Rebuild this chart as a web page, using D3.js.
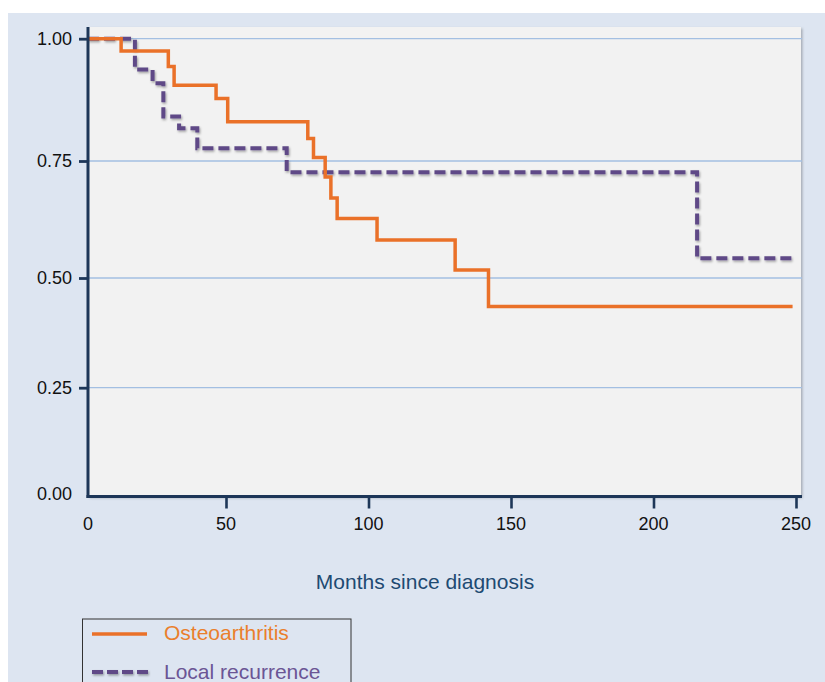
<!DOCTYPE html>
<html>
<head>
<meta charset="utf-8">
<script src="https://cdn.jsdelivr.net/npm/d3@7"></script>
<style>
  html, body { margin: 0; padding: 0; background: #fff; }
  svg { display: block; font-family: "Liberation Sans", Arial, Helvetica, sans-serif; }
</style>
</head>
<body>
<div id="chart"></div>
<script>
// Kaplan-Meier style step data
var osteoMonths = [0, 12, 29.1, 31.2, 46.4, 50.6, 78.7, 80.7, 84.8, 86.8, 89.0, 103.0, 130.4, 142.1, 248.8];
var osteoSurv   = [1.0, 0.975, 0.943, 0.905, 0.878, 0.830, 0.796, 0.757, 0.716, 0.671, 0.627, 0.581, 0.517, 0.435, 0.435];

var recurMonths = [0, 17.0, 23.4, 27.3, 33.0, 39.6, 71.3, 215.3, 249.2];
var recurSurv   = [1.0, 0.937, 0.909, 0.841, 0.817, 0.776, 0.726, 0.542, 0.542];

var xTicks = [50, 100, 150, 200, 250];
var yTicks = [1.0, 0.75, 0.5, 0.25];
var xLabels = [0, 50, 100, 150, 200, 250];
var yLabels = [1.0, 0.75, 0.5, 0.25, 0.0];

var W = 825, H = 682;
var plot = { left: 88, right: 801, top: 27, bottom: 496.5 };

var svg = d3.select("#chart").append("svg")
    .attr("width", W)
    .attr("height", H);

var defs = svg.append("defs");
defs.append("filter").attr("id", "panelShadow")
    .attr("filterUnits", "userSpaceOnUse")
    .attr("x", 0).attr("y", 0).attr("width", W).attr("height", H)
  .append("feDropShadow")
    .attr("dx", 1.5).attr("dy", 1.5).attr("stdDeviation", 1)
    .attr("flood-color", "#000").attr("flood-opacity", 0.25);
defs.append("filter").attr("id", "lineShadow")
    .attr("filterUnits", "userSpaceOnUse")
    .attr("x", 0).attr("y", 0).attr("width", W).attr("height", H)
  .append("feDropShadow")
    .attr("dx", 1).attr("dy", 1.5).attr("stdDeviation", 1)
    .attr("flood-color", "#000").attr("flood-opacity", 0.35);

// outer background
svg.append("rect")
    .attr("x", 8).attr("y", 13)
    .attr("width", W - 8).attr("height", H - 13)
    .attr("fill", "#dde5f1");

// plot panel
svg.append("rect")
    .attr("x", plot.left).attr("y", plot.top)
    .attr("width", plot.right - plot.left).attr("height", plot.bottom - plot.top)
    .attr("fill", "#f2f2f2")
    .attr("filter", "url(#panelShadow)");

// scales (piecewise to follow the printed axis)
var x = d3.scaleLinear()
    .domain([0, 50, 250])
    .range([88, 226, 796]);

var y = d3.scaleLinear()
    .domain([0, 0.25, 0.5, 0.75, 1.0])
    .range([496.5, 387.7, 278, 161, 38.7]);

// gridlines
svg.append("g")
  .selectAll("line")
  .data(yTicks)
  .enter().append("line")
    .attr("x1", plot.left).attr("x2", plot.right + 1)
    .attr("y1", function (d) { return y(d); })
    .attr("y2", function (d) { return y(d); })
    .attr("stroke", "#a3bfe2")
    .attr("stroke-width", 1.3);

// curves
var line = d3.line()
    .x(function (d) { return x(d[0]); })
    .y(function (d) { return y(d[1]); })
    .curve(d3.curveStepAfter);

var recur = recurMonths.map(function (m, i) { return [m, recurSurv[i]]; });
var osteo = osteoMonths.map(function (m, i) { return [m, osteoSurv[i]]; });

svg.append("path")
    .datum(recur)
    .attr("d", line)
    .attr("fill", "none")
    .attr("stroke", "#5f4a87")
    .attr("stroke-width", 4)
    .attr("stroke-dasharray", "11,5")
    .attr("filter", "url(#lineShadow)");

svg.append("path")
    .datum(osteo)
    .attr("d", line)
    .attr("fill", "none")
    .attr("stroke", "#ea7129")
    .attr("stroke-width", 3.5);

// axes
var axisColor = "#1d3658";

var yAxis = svg.append("g")
    .attr("transform", "translate(" + plot.left + ",0)")
    .call(d3.axisLeft(y).tickValues(yTicks).tickSize(9).tickFormat(""));
yAxis.select(".domain").remove();
yAxis.selectAll(".tick line").attr("stroke", axisColor).attr("stroke-width", 2.8);

svg.append("g")
  .selectAll("text")
  .data(yLabels)
  .enter().append("text")
    .attr("x", 72)
    .attr("y", function (d) { return d === 0 ? y(d) - 3 : y(d); })
    .attr("dy", "0.35em")
    .attr("text-anchor", "end")
    .attr("font-size", 18)
    .attr("fill", "#111")
    .text(function (d) { return d3.format(".2f")(d); });

var xAxis = svg.append("g")
    .attr("transform", "translate(0," + plot.bottom + ")")
    .call(d3.axisBottom(x).tickValues(xTicks).tickSize(12).tickFormat(""));
xAxis.select(".domain").remove();
xAxis.selectAll(".tick line").attr("stroke", axisColor).attr("stroke-width", 2.6);

svg.append("g")
  .selectAll("text")
  .data(xLabels)
  .enter().append("text")
    .attr("x", function (d) { return x(d); })
    .attr("y", 530)
    .attr("text-anchor", "middle")
    .attr("font-size", 18)
    .attr("fill", "#111")
    .text(function (d) { return d; });

svg.append("line")
    .attr("x1", plot.left).attr("x2", plot.left)
    .attr("y1", plot.top).attr("y2", plot.bottom + 1.5)
    .attr("stroke", axisColor).attr("stroke-width", 3);
svg.append("line")
    .attr("x1", plot.left - 1.5).attr("x2", plot.right + 1)
    .attr("y1", plot.bottom).attr("y2", plot.bottom)
    .attr("stroke", axisColor).attr("stroke-width", 3);

// axis title
svg.append("text")
    .attr("x", 425)
    .attr("y", 589)
    .attr("text-anchor", "middle")
    .attr("font-size", 21)
    .attr("fill", "#1e4a72")
    .text("Months since diagnosis");

// legend
var legend = svg.append("g");
legend.append("rect")
    .attr("x", 82.5).attr("y", 619)
    .attr("width", 268.5).attr("height", 80)
    .attr("fill", "none")
    .attr("stroke", "#333")
    .attr("stroke-width", 1);

legend.append("line")
    .attr("x1", 92).attr("x2", 147)
    .attr("y1", 634).attr("y2", 634)
    .attr("stroke", "#ea7129").attr("stroke-width", 3.5);
legend.append("text")
    .attr("x", 164).attr("y", 640)
    .attr("font-size", 21)
    .attr("fill", "#ea7f2c")
    .text("Osteoarthritis");

legend.append("line")
    .attr("x1", 92).attr("x2", 148)
    .attr("y1", 672).attr("y2", 672)
    .attr("stroke", "#5f4a87").attr("stroke-width", 4)
    .attr("stroke-dasharray", "11,4")
    .attr("filter", "url(#lineShadow)");
legend.append("text")
    .attr("x", 164).attr("y", 679)
    .attr("font-size", 21)
    .attr("fill", "#6b5595")
    .text("Local recurrence");
</script>
</body>
</html>
